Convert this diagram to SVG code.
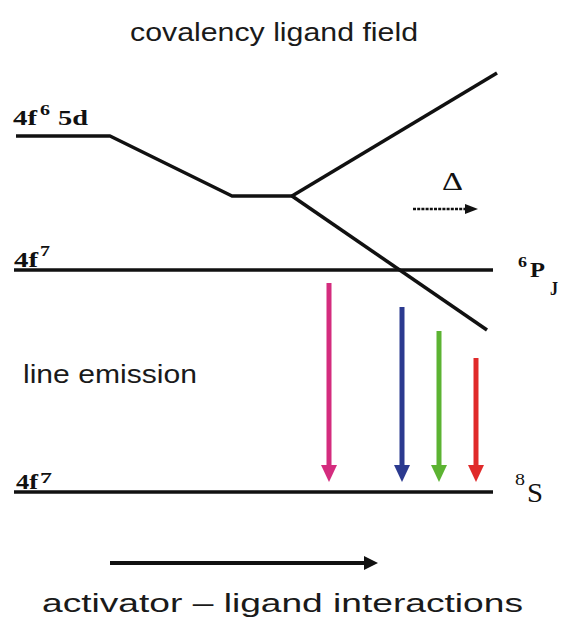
<svg xmlns="http://www.w3.org/2000/svg" width="563" height="627" viewBox="0 0 563 627">
  <style>
    .sans { font-family: "Liberation Sans", Arial, sans-serif; fill: #1a1a1a; font-size: 26px; }
    .serif { font-family: "Liberation Serif", "Times New Roman", serif; fill: #111; }
    .b { font-weight: bold; }
    .lvl { stroke: #111; stroke-width: 3.5; fill: none; stroke-linejoin: round; }
  </style>
  <defs>
    <marker id="hm" markerUnits="userSpaceOnUse" markerWidth="17" markerHeight="16" refX="5" refY="8" orient="auto"><path d="M0,0 L17,8 L0,16 z" fill="#d42c7e"/></marker>
    <marker id="hb" markerUnits="userSpaceOnUse" markerWidth="17" markerHeight="16" refX="5" refY="8" orient="auto"><path d="M0,0 L17,8 L0,16 z" fill="#2b3a8f"/></marker>
    <marker id="hg" markerUnits="userSpaceOnUse" markerWidth="17" markerHeight="16" refX="5" refY="8" orient="auto"><path d="M0,0 L17,8 L0,16 z" fill="#5cb332"/></marker>
    <marker id="hr" markerUnits="userSpaceOnUse" markerWidth="17" markerHeight="16" refX="5" refY="8" orient="auto"><path d="M0,0 L17,8 L0,16 z" fill="#e02a2a"/></marker>
    <marker id="hk" markerUnits="userSpaceOnUse" markerWidth="14" markerHeight="14" refX="4" refY="7" orient="auto"><path d="M0,0 L14,7 L0,14 z" fill="#111"/></marker>
    <marker id="hd" markerUnits="userSpaceOnUse" markerWidth="13" markerHeight="10" refX="1" refY="5" orient="auto"><path d="M0,0 L13,5 L0,10 z" fill="#111"/></marker>
  </defs>
  <rect width="563" height="627" fill="#fff"/>

  <g id="title">
    <text class="sans" x="130" y="41" textLength="288" lengthAdjust="spacingAndGlyphs">covalency ligand field</text>
  </g>

  <g id="level-4f6-5d">
    <polyline class="lvl" points="16,136 110,136 232,196 292,196"/>
    <text class="serif b" x="13" y="125" font-size="21" textLength="24" lengthAdjust="spacingAndGlyphs">4f</text>
    <text class="serif b" x="40" y="115" font-size="15" textLength="10" lengthAdjust="spacingAndGlyphs">6</text>
    <text class="serif b" x="58" y="125" font-size="21" textLength="30" lengthAdjust="spacingAndGlyphs">5d</text>
  </g>

  <g id="level-4f7-upper">
    <line class="lvl" x1="14" y1="270" x2="493" y2="270"/>
    <text class="serif b" x="14" y="267" font-size="21" textLength="24" lengthAdjust="spacingAndGlyphs">4f</text>
    <text class="serif b" x="40" y="256" font-size="15" textLength="10" lengthAdjust="spacingAndGlyphs">7</text>
  </g>

  <g id="label-6PJ">
    <text class="serif b" x="518" y="267" font-size="15" textLength="9" lengthAdjust="spacingAndGlyphs">6</text>
    <text class="serif b" x="530" y="277" font-size="22" textLength="15" lengthAdjust="spacingAndGlyphs">P</text>
    <text class="serif b" x="550" y="295" font-size="18" textLength="8" lengthAdjust="spacingAndGlyphs">J</text>
  </g>

  <g id="level-4f7-lower">
    <line class="lvl" x1="14" y1="492" x2="493" y2="492"/>
    <text class="serif b" x="16" y="489" font-size="21" textLength="22" lengthAdjust="spacingAndGlyphs">4f</text>
    <text class="serif b" x="40" y="483" font-size="15" textLength="12" lengthAdjust="spacingAndGlyphs">7</text>
  </g>

  <g id="label-8S">
    <text class="serif" x="515" y="485" font-size="16" textLength="10" lengthAdjust="spacingAndGlyphs">8</text>
    <text class="serif" x="527" y="502" font-size="27" textLength="16" lengthAdjust="spacingAndGlyphs">S</text>
  </g>

  <g id="delta">
    <text class="serif" x="442" y="190" font-size="25" textLength="21" lengthAdjust="spacingAndGlyphs">Δ</text>
    <line x1="413" y1="209" x2="466" y2="209" stroke="#111" stroke-width="2.5" stroke-dasharray="3 1.2" marker-end="url(#hd)"/>
  </g>

  <g id="line-emission">
    <text class="sans" x="23" y="383" textLength="174" lengthAdjust="spacingAndGlyphs">line emission</text>
  </g>

  <g id="interactions">
    <line x1="110" y1="563" x2="368" y2="563" stroke="#111" stroke-width="4" marker-end="url(#hk)"/>
    <text class="sans" x="42" y="612" textLength="481" lengthAdjust="spacingAndGlyphs">activator – ligand interactions</text>
  </g>

  <g id="connectors">
    <line class="lvl" x1="292" y1="196" x2="497" y2="73"/>
    <line class="lvl" x1="292" y1="196" x2="487" y2="330"/>
    <line x1="329" y1="283" x2="329" y2="470" stroke="#d42c7e" stroke-width="5" marker-end="url(#hm)"/>
    <line x1="402" y1="307" x2="402" y2="470" stroke="#2b3a8f" stroke-width="5" marker-end="url(#hb)"/>
    <line x1="439" y1="331" x2="439" y2="470" stroke="#5cb332" stroke-width="5" marker-end="url(#hg)"/>
    <line x1="476" y1="358" x2="476" y2="470" stroke="#e02a2a" stroke-width="5" marker-end="url(#hr)"/>
  </g>
</svg>
